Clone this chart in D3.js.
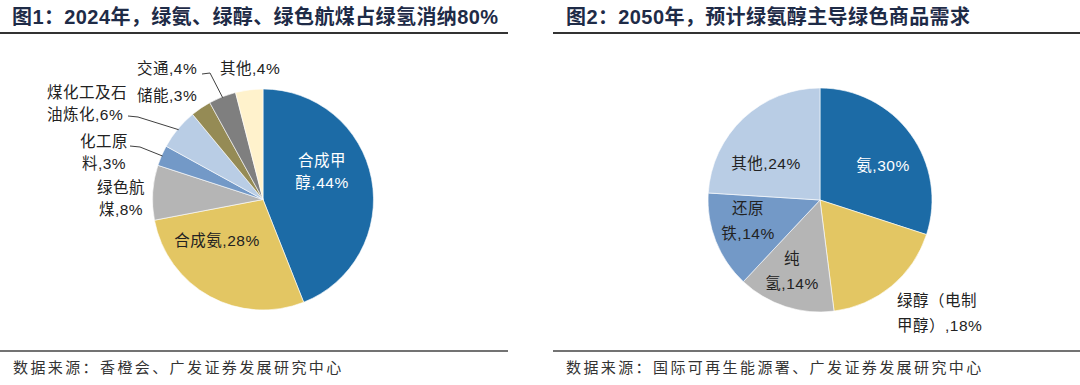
<!DOCTYPE html>
<html>
<head>
<meta charset="utf-8">
<script src="https://cdn.jsdelivr.net/npm/d3@7"></script>
<style>
  body { margin: 0; background: #fff; }
  svg text { font-family: "Liberation Sans", "Noto Sans CJK SC", sans-serif; }
</style>
</head>
<body>
<div id="chart"></div>
<script>
// chart 1: 2024 green hydrogen consumption
var cats2024 = ["合成甲醇", "合成氨", "绿色航煤", "化工原料", "煤化工及石油炼化", "储能", "交通", "其他"];
var vals2024 = [44, 28, 8, 3, 6, 3, 4, 4];
var colors2024 = ["#1c6ba6", "#e3c663", "#b5b5b5", "#7399c7", "#b9cde5", "#958b55", "#7f7f7f", "#fff2cc"];

// chart 2: 2050 demand
var cats2050 = ["氨", "绿醇（电制甲醇）", "纯氢", "还原铁", "其他"];
var vals2050 = [30, 18, 14, 14, 24];
var colors2050 = ["#1c6ba6", "#e3c663", "#b5b5b5", "#7399c7", "#b9cde5"];

var titles = ["图1：2024年，绿氨、绿醇、绿色航煤占绿氢消纳80%", "图2：2050年，预计绿氨醇主导绿色商品需求"];
var sources = ["数据来源：香橙会、广发证券发展研究中心", "数据来源：国际可再生能源署、广发证券发展研究中心"];

// label layout, offsets relative to pie center
var labels2024 = [
  {lines: ["合成甲", "醇,44%"], dx: 59, dy: -39.5, anchor: "middle", fill: "#fff"},
  {lines: ["合成氨,28%"], dx: -46, dy: 40.5, anchor: "middle"},
  {lines: ["绿色航", "煤,8%"], dx: -142, dy: -12.5, anchor: "middle"},
  {lines: ["化工原", "料,3%"], dx: -159, dy: -58.5, anchor: "middle", leader: [[-133, -53.5], [-123, -52.5]]},
  {lines: ["煤化工及石", "油炼化,6%"], dx: -216, dy: -107.5, anchor: "start", leader: [[-135, -83.5], [-125, -82.5]]},
  {lines: ["储能,3%"], dx: -126, dy: -104.5, anchor: "start"},
  {lines: ["交通,4%"], dx: -126, dy: -131.5, anchor: "start", leader: [[-61, -125.5], [-53, -126.5]]},
  {lines: ["其他,4%"], dx: -43, dy: -131.5, anchor: "start"}
];
var labels2050 = [
  {lines: ["氨,30%"], dx: 63, dy: -35, anchor: "middle", fill: "#fff"},
  {lines: ["绿醇（电制", "甲醇）,18%"], dx: 77, dy: 100, anchor: "start"},
  {lines: ["纯", "氢,14%"], dx: -28, dy: 58, anchor: "middle"},
  {lines: ["还原", "铁,14%"], dx: -72, dy: 8, anchor: "middle"},
  {lines: ["其他,24%"], dx: -54, dy: -37, anchor: "middle"}
];

var W = 1080, H = 385;
var svg = d3.select("#chart").append("svg")
    .attr("width", W)
    .attr("height", H);

var panels = [
  {x0: 0, x1: 508, tx: 12, sx: 13, cx: 263, cy: 199.5, r: 110.5, cats: cats2024, vals: vals2024, colors: colors2024, labels: labels2024, lh: 22},
  {x0: 553, x1: 1080, tx: 566, sx: 566, cx: 820, cy: 200, r: 112, cats: cats2050, vals: vals2050, colors: colors2050, labels: labels2050, lh: 25}
];

panels.forEach(function(p, i) {
    // title
    svg.append("text")
        .attr("x", p.tx)
        .attr("y", 24)
        .attr("font-size", 20)
        .attr("font-weight", "bold")
        .attr("letter-spacing", 0.4)
        .attr("fill", "#1e2b47")
        .text(titles[i]);

    svg.append("line")
        .attr("x1", p.x0).attr("x2", p.x1)
        .attr("y1", 33).attr("y2", 33)
        .attr("stroke", "#333").attr("stroke-width", 2);

    svg.append("line")
        .attr("x1", p.x0).attr("x2", p.x1)
        .attr("y1", 351).attr("y2", 351)
        .attr("stroke", "#444").attr("stroke-width", 1.5);

    svg.append("text")
        .attr("x", p.sx)
        .attr("y", 373)
        .attr("font-size", 15)
        .attr("letter-spacing", 2.4)
        .attr("fill", "#333")
        .text(sources[i]);

    var data = p.cats.map(function(c, k) { return {name: c, value: p.vals[k]}; });

    var pie = d3.pie()
        .sort(null)
        .value(function(d) { return d.value; });

    var arc = d3.arc()
        .outerRadius(p.r)
        .innerRadius(0);

    var edge = d3.arc()
        .outerRadius(p.r - 1)
        .innerRadius(p.r - 1);

    var g = svg.append("g")
        .attr("transform", "translate(" + p.cx + "," + p.cy + ")");

    var arcs = pie(data);

    g.selectAll(".slice")
        .data(arcs)
        .enter().append("path")
        .attr("class", "slice")
        .attr("d", arc)
        .attr("fill", function(d, k) { return p.colors[k]; })
        .attr("stroke", "#fff")
        .attr("stroke-width", 0.6);

    // leader lines
    arcs.forEach(function(d, k) {
        var lb = p.labels[k];
        if (!lb.leader) return;
        var pts = lb.leader.concat([edge.centroid(d)]);
        g.append("path")
            .attr("d", d3.line()(pts))
            .attr("fill", "none")
            .attr("stroke", "#404040")
            .attr("stroke-width", 1);
    });

    // labels
    arcs.forEach(function(d, k) {
        var lb = p.labels[k];
        var t = g.append("text")
            .attr("text-anchor", lb.anchor)
            .attr("font-size", 15.5)
            .attr("letter-spacing", 0.5)
            .attr("fill", lb.fill || "#222");
        lb.lines.forEach(function(s, j) {
            t.append("tspan")
                .attr("x", lb.dx)
                .attr("y", lb.dy + j * p.lh)
                .attr("dominant-baseline", "central")
                .text(s);
        });
    });
});
</script>
</body>
</html>
